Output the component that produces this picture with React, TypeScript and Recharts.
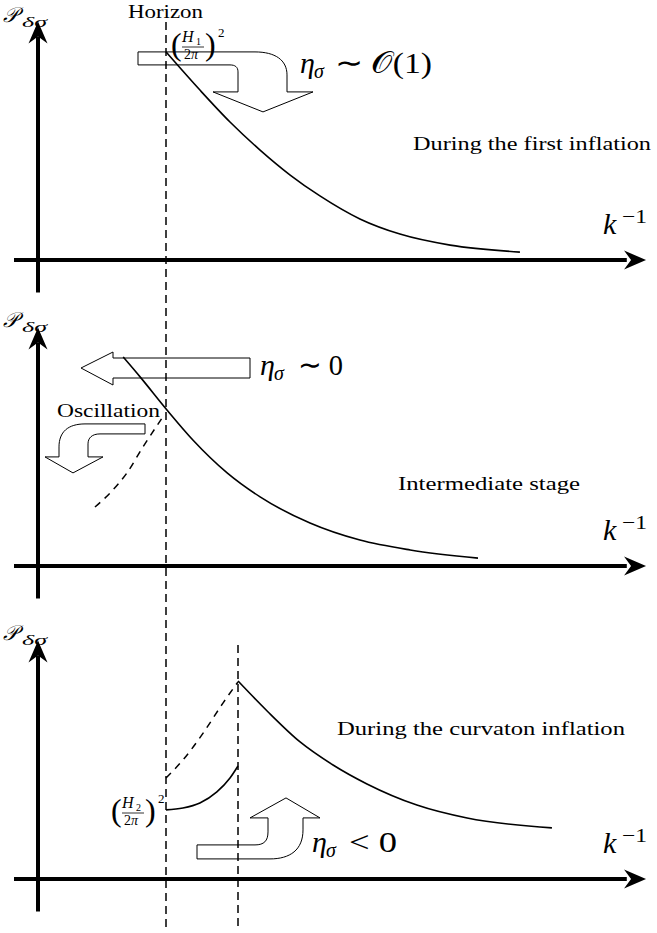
import React from 'react';
import { ComposedChart, Line, Scatter, XAxis, YAxis, Customized } from 'recharts';

// ---------------- data (x: k^-1 in arbitrary units, y: P_{delta sigma} in arbitrary units) ----------------
const horizonK = 4.0; // horizon crossing
const secondK = 6.25; // end of curvaton-stage growth

// panel 1: during the first inflation
const firstX = [4.0, 5.06, 6.0, 6.94, 7.88, 8.81, 10.06, 11.31, 12.88, 15.06];
const firstY = [8.67, 7.08, 5.75, 4.58, 3.54, 2.67, 1.71, 1.08, 0.62, 0.33];

// panel 2: intermediate stage
const interX = [2.66, 3.19, 4.03, 4.84, 5.91, 6.94, 8.5, 10.06, 11.63, 13.75];
const interY = [8.71, 7.88, 6.5, 5.25, 3.88, 2.88, 1.79, 1.08, 0.67, 0.33];
const oscX = [1.78, 2.25, 2.78, 3.28, 3.88];
const oscY = [2.46, 3.04, 3.88, 4.96, 6.17];

// panel 3: during the curvaton inflation
const curvX = [6.25, 7.16, 8.19, 9.22, 10.28, 11.84, 13.41, 16.06];
const curvY = [8.25, 7.0, 5.71, 4.75, 3.96, 3.08, 2.54, 2.13];
const curvDashX = [4.0, 4.53, 5.16, 5.78, 6.25];
const curvDashY = [4.21, 4.96, 6.08, 7.33, 8.21];
const curvSubX = [4.0, 4.53, 5.06, 5.59, 6.0, 6.25];
const curvSubY = [2.88, 2.96, 3.17, 3.63, 4.21, 4.71];

// axis extents (data units)
const axisXStart = -0.75;
const axisXEnd = 18.4;
const axisXTip = 18.97;
const axisYStart = -1.35;
const axisYEnd = 9.3;
const axisYTip = 9.9;

// ---------------- layout ----------------
const W = 657;
const H = 933;
const UX = 32; // px per x unit
const UY = 24; // px per y unit
const OX = 38; // px of k^-1 = 0
const AXIS = [260, 566, 879]; // px of P = 0 for each panel
const IDS = ['p1', 'p2', 'p3'];

const xDomain: [number, number] = [-OX / UX, (W - OX) / UX];
const yDomain = (i: number): [number, number] => [-(H - AXIS[i]) / UY, AXIS[i] / UY];

const pts = (xs: number[], ys: number[]) => xs.map((x, i) => ({ x, y: ys[i] }));

// horizon lines span all panels (expressed in panel-3 units)
const horizonLine = [
  { x: horizonK, y: (AXIS[2] - 22) / UY },
  { x: horizonK, y: -(930 - AXIS[2]) / UY },
];
const secondLine = [
  { x: secondK, y: (AXIS[2] - 645) / UY },
  { x: secondK, y: -(930 - AXIS[2]) / UY },
];

const serif = '"Liberation Serif", "Times New Roman", Tinos, serif';

// ---------------- shapes ----------------
const headPath = 'M1,0 L-21,-9.5 L-14,0 L-21,9.5 Z';
const RightHead = (p: any) => (
  <path d={headPath} transform={`translate(${p.cx},${p.cy})`} fill="#000" stroke="none" />
);
const UpHead = (p: any) => (
  <path d={headPath} transform={`translate(${p.cx},${p.cy}) rotate(-90)`} fill="#000" stroke="none" />
);

const arrowStyle = { fill: 'none', stroke: '#000', strokeWidth: 1 };
const arrowDown =
  'M-28,0 L89,0 C109,0 121,8 121,23 L121,40 L147,40 L97,60 L47,40 L72,40 L72,20 C72,15 69,13 64,13 L-28,13 Z';
const arrowLeft = 'M84,-10 L-53,-10 L-53,-16 L-85,0 L-53,17 L-53,10 L84,10 Z';
const arrowOsc =
  'M-21,0 L-81,0 C-98,0 -107,8 -107,23 L-107,33 L-121,33 L-93,49 L-63,33 L-78,33 L-78,20 C-78,14 -74,10 -66,10 L-21,10 Z';
const arrowUp =
  'M-41,0 L17,0 C26,0 30,-4 30,-13 L30,-27 L12,-27 L48,-47 L82,-27 L65,-27 L65,-15 C65,5 52,14 32,14 L-41,14 Z';
const mk = (d: string) => (p: any) => <path d={d} transform={`translate(${p.cx},${p.cy})`} {...arrowStyle} />;

// ---------------- text ----------------
const it = { style: { fontFamily: serif, fontStyle: 'italic' as const }, fill: '#000' };
const rm = { style: { fontFamily: serif }, fill: '#000' };

const PLabel = ({ base }: { base: number }) => (
  <g>
    <text x={3} y={base} fontSize={21} {...it}>𝒫</text>
    <text x={22} y={base + 5} fontSize={15} textLength={25} lengthAdjust="spacingAndGlyphs" {...it}>δσ</text>
  </g>
);
const KLabel = ({ axis }: { axis: number }) => (
  <g>
    <text x={603} y={axis - 26} fontSize={30} {...it}>k</text>
    <text x={622} y={axis - 37} fontSize={19} textLength={25} lengthAdjust="spacingAndGlyphs" {...rm}>−1</text>
  </g>
);
const Eta = ({ x, base }: { x: number; base: number }) => (
  <g>
    <text x={x} y={base} fontSize={30} {...it}>η</text>
    <text x={x + 14} y={base + 5} fontSize={20} {...it}>σ</text>
  </g>
);
const HFrac = ({ x, base, idx }: { x: number; base: number; idx: string }) => (
  // x = left of "(", base = baseline of parentheses
  <g>
    <text x={x} y={base} fontSize={32} {...rm}>(</text>
    <text x={x + 11} y={base - 13} fontSize={16} {...it}>H</text>
    <text x={x + 25} y={base - 10} fontSize={10} {...rm}>{idx}</text>
    <line x1={x + 11} x2={x + 33} y1={base - 8} y2={base - 8} stroke="#000" strokeWidth={0.8} />
    <text x={x + 13} y={base + 4} fontSize={14} {...rm}>2<tspan {...it}>π</tspan></text>
    <text x={x + 34} y={base} fontSize={32} {...rm}>)</text>
    <text x={x + 47} y={base - 18} fontSize={13} {...rm}>2</text>
  </g>
);

const TextLayer = () => (
  <g>
    <text x={128} y={18} fontSize={19} textLength={75} lengthAdjust="spacingAndGlyphs" {...rm}>Horizon</text>
    <HFrac x={171} base={55} idx="1" />
    <Eta x={300} base={73} />
    <text x={335} y={73} fontSize={30} textLength={97} lengthAdjust="spacingAndGlyphs" {...rm}>∼ 𝒪(1)</text>
    <text x={413} y={150} fontSize={18} textLength={238} lengthAdjust="spacingAndGlyphs" {...rm}>During the first inflation</text>
    <PLabel base={22} />
    <KLabel axis={AXIS[0]} />

    <PLabel base={327} />
    <Eta x={260} base={375} />
    <text x={298} y={375} fontSize={30} textLength={45} lengthAdjust="spacingAndGlyphs" {...rm}>∼ 0</text>
    <text x={57} y={417} fontSize={19} textLength={103} lengthAdjust="spacingAndGlyphs" {...rm}>Oscillation</text>
    <text x={398} y={490} fontSize={18} textLength={182} lengthAdjust="spacingAndGlyphs" {...rm}>Intermediate stage</text>
    <KLabel axis={AXIS[1]} />

    <PLabel base={640} />
    <text x={337} y={735} fontSize={18} textLength={288} lengthAdjust="spacingAndGlyphs" {...rm}>During the curvaton inflation</text>
    <HFrac x={111} base={821} idx="2" />
    <Eta x={312} base={852} />
    <text x={349} y={852} fontSize={30} textLength={48} lengthAdjust="spacingAndGlyphs" {...rm}>&lt; 0</text>
    <KLabel axis={AXIS[2]} />
  </g>
);

const lineProps = {
  dataKey: 'y',
  stroke: '#000',
  dot: false,
  activeDot: false,
  isAnimationActive: false,
  legendType: 'none' as const,
};

export default function App() {
  return (
    <div style={{ position: 'absolute', left: 0, top: 0, width: W, height: H, background: '#fff' }}>
      <ComposedChart width={W} height={H} margin={{ top: 0, right: 0, bottom: 0, left: 0 }}>
        <XAxis type="number" dataKey="x" domain={xDomain} allowDataOverflow hide />
        {IDS.map((id, i) => (
          <YAxis key={id} yAxisId={id} type="number" dataKey="y" domain={yDomain(i)} allowDataOverflow hide />
        ))}

        {/* axes */}
        {IDS.map((id) => (
          <Line key={`xa-${id}`} yAxisId={id} data={pts([axisXStart, axisXEnd], [0, 0])} type="linear" strokeWidth={4} {...lineProps} />
        ))}
        {IDS.map((id) => (
          <Line key={`ya-${id}`} yAxisId={id} data={pts([0, 0], [axisYStart, axisYEnd])} type="linear" strokeWidth={4} {...lineProps} />
        ))}
        {IDS.map((id) => (
          <Scatter key={`xt-${id}`} yAxisId={id} data={pts([axisXTip], [0])} shape={RightHead} isAnimationActive={false} />
        ))}
        {IDS.map((id) => (
          <Scatter key={`yt-${id}`} yAxisId={id} data={pts([0], [axisYTip])} shape={UpHead} isAnimationActive={false} />
        ))}

        {/* horizon guides */}
        <Line yAxisId="p3" data={horizonLine} type="linear" strokeWidth={1.5} strokeDasharray="8 5" {...lineProps} />
        <Line yAxisId="p3" data={secondLine} type="linear" strokeWidth={1.5} strokeDasharray="8 5" {...lineProps} />

        {/* spectra */}
        <Line yAxisId="p1" data={pts(firstX, firstY)} type="monotone" strokeWidth={1.6} {...lineProps} />
        <Line yAxisId="p2" data={pts(interX, interY)} type="monotone" strokeWidth={1.6} {...lineProps} />
        <Line yAxisId="p2" data={pts(oscX, oscY)} type="monotone" strokeWidth={1.5} strokeDasharray="7 6" {...lineProps} />
        <Line yAxisId="p3" data={pts(curvX, curvY)} type="monotone" strokeWidth={1.6} {...lineProps} />
        <Line yAxisId="p3" data={pts(curvDashX, curvDashY)} type="monotone" strokeWidth={1.5} strokeDasharray="7 6" {...lineProps} />
        <Line yAxisId="p3" data={pts(curvSubX, curvSubY)} type="monotone" strokeWidth={1.6} {...lineProps} />

        {/* block arrows, anchored in data space */}
        <Scatter yAxisId="p1" data={pts([horizonK], [8.67])} shape={mk(arrowDown)} isAnimationActive={false} />
        <Scatter yAxisId="p2" data={pts([horizonK], [8.25])} shape={mk(arrowLeft)} isAnimationActive={false} />
        <Scatter yAxisId="p2" data={pts([horizonK], [5.92])} shape={mk(arrowOsc)} isAnimationActive={false} />
        <Scatter yAxisId="p3" data={pts([secondK], [1.42])} shape={mk(arrowUp)} isAnimationActive={false} />

        <Customized component={<TextLayer />} />
      </ComposedChart>
    </div>
  );
}
